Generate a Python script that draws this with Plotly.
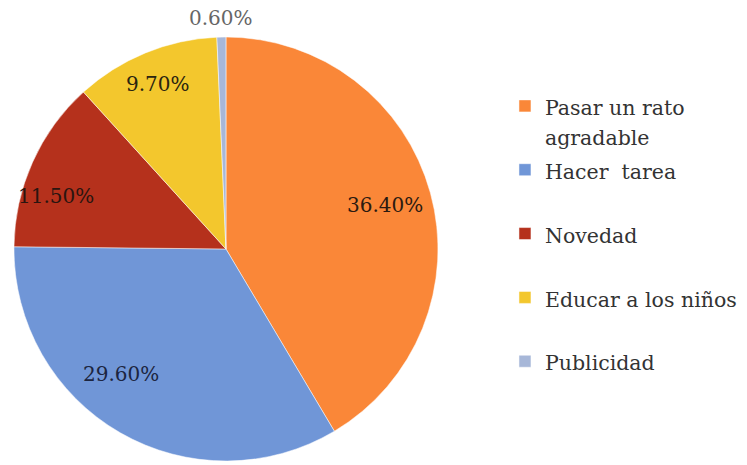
import math
import plotly.graph_objects as go

# Motivos de uso (porcentaje de respuestas)
categorias = ["Pasar un rato<br>agradable", "Hacer  tarea", "Novedad",
              "Educar a los niños", "Publicidad"]
porcentajes = [36.40, 29.60, 11.50, 9.70, 0.60]
colores = ["#FA8738", "#7096D7", "#B5311C", "#F3C72D", "#A7B7D8"]
colores_texto = ["#2b1a10", "#1c2540", "#2a1510", "#2a2410", "#666666"]

FUENTE = "DejaVu Serif, Liberation Serif, serif"
ANCHO, ALTO = 747, 465
dominio_x = [0.0187, 0.5863]
dominio_y = [0.0086, 0.9204]

# posición radial (fracción del radio) y ajuste angular de cada rótulo
radio_rotulo = [0.78, 0.77, 0.84, 0.84, 1.09]
ajuste_angulo = [0, 10, -7, 0, 0]

# cada entrada de la leyenda ocupa dos renglones
def etiqueta_leyenda(c):
    lineas = c.split("<br>")
    if len(lineas) == 1:
        lineas.append("&nbsp;")
    return "<br>".join(f"<span style='font-size:20.5px'>{l}</span>" for l in lineas)

etiquetas = [etiqueta_leyenda(c) for c in categorias]
textos = [f"{v:.2f}%" for v in porcentajes]

fig = go.Figure(
    go.Pie(
        labels=etiquetas,
        values=porcentajes,
        textinfo="none",
        sort=False,
        direction="clockwise",
        rotation=0,
        marker=dict(colors=colores, line=dict(color="white", width=0.5)),
        hovertext=textos,
        hoverinfo="text",
        domain=dict(x=dominio_x, y=dominio_y),
    )
)

# rótulos de porcentaje en el ángulo medio de cada sector
total = sum(porcentajes)
cx = (dominio_x[0] + dominio_x[1]) / 2 * ANCHO
cy = (1 - (dominio_y[0] + dominio_y[1]) / 2) * ALTO
radio = min((dominio_x[1] - dominio_x[0]) * ANCHO, (dominio_y[1] - dominio_y[0]) * ALTO) / 2
acumulado = 0.0
for v, t, r, da, col in zip(porcentajes, textos, radio_rotulo, ajuste_angulo, colores_texto):
    medio = (acumulado + v / 2) / total * 360 + da
    acumulado += v
    px = cx + r * radio * math.sin(math.radians(medio))
    py = cy - r * radio * math.cos(math.radians(medio))
    fig.add_annotation(
        x=px / ANCHO, y=1 - py / ALTO, xref="paper", yref="paper",
        text=t, showarrow=False, xanchor="center", yanchor="middle",
        font=dict(family=FUENTE, size=20, color=col),
    )

fig.update_layout(
    width=ANCHO,
    height=ALTO,
    margin=dict(l=0, r=0, t=0, b=0, autoexpand=False),
    paper_bgcolor="white",
    plot_bgcolor="white",
    showlegend=True,
    legend=dict(
        x=0.676, y=0.819, xanchor="left", yanchor="top",
        valign="top",
        font=dict(family=FUENTE, size=23.4, color="#333333"),
        bgcolor="rgba(0,0,0,0)",
    ),
)

fig.write_html("out.html")
